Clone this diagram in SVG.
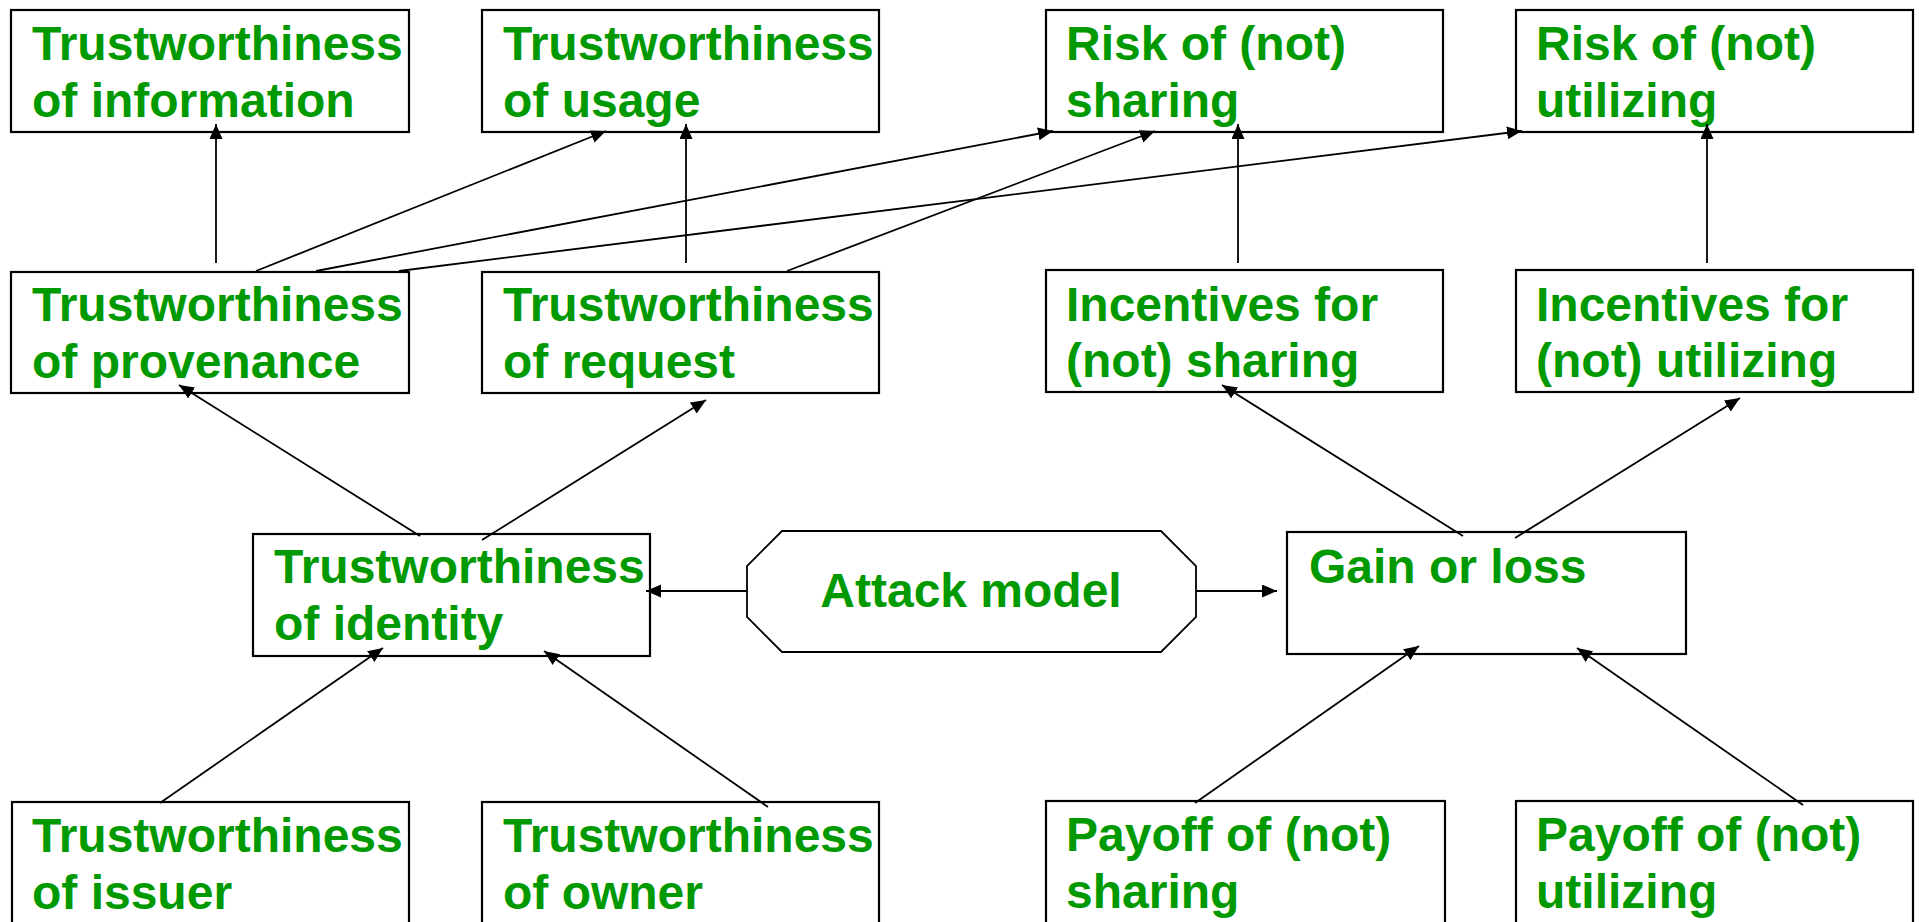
<svg xmlns="http://www.w3.org/2000/svg" width="1919" height="922" viewBox="0 0 1919 922">
<defs>
<marker id="arr" markerUnits="userSpaceOnUse" markerWidth="16" markerHeight="14" refX="15" refY="6.5" orient="auto">
<path d="M0,0 L15,6.5 L0,13 z" fill="#000"/>
</marker>
<style>
.box{fill:#fff;stroke:#000;stroke-width:2.2}
.oct{fill:#fff;stroke:#000;stroke-width:1.8}
.t{font-family:"Liberation Sans",Arial,sans-serif;font-weight:bold;font-size:48px;fill:#009900}
.c line{stroke:#000;stroke-width:1.8;marker-end:url(#arr)}
</style>
</defs>
<rect width="1919" height="922" fill="#fff"/>
<g id="info"><rect class="box" x="11" y="10" width="398" height="122"/><text class="t" x="32" y="60">Trustworthiness</text><text class="t" x="32" y="117">of information</text></g>
<g id="usage"><rect class="box" x="482" y="10" width="397" height="122"/><text class="t" x="503" y="60">Trustworthiness</text><text class="t" x="503" y="117">of usage</text></g>
<g id="risk-sharing"><rect class="box" x="1046" y="10" width="397" height="122"/><text class="t" x="1066" y="60">Risk of (not)</text><text class="t" x="1066" y="117">sharing</text></g>
<g id="risk-utilizing"><rect class="box" x="1516" y="10" width="397" height="122"/><text class="t" x="1536" y="60">Risk of (not)</text><text class="t" x="1536" y="117">utilizing</text></g>
<g id="provenance"><rect class="box" x="11" y="272" width="398" height="121"/><text class="t" x="32" y="321">Trustworthiness</text><text class="t" x="32" y="378">of provenance</text></g>
<g id="request"><rect class="box" x="482" y="272" width="397" height="121"/><text class="t" x="503" y="321">Trustworthiness</text><text class="t" x="503" y="378">of request</text></g>
<g id="inc-sharing"><rect class="box" x="1046" y="270" width="397" height="122"/><text class="t" x="1066" y="321">Incentives for</text><text class="t" x="1066" y="377">(not) sharing</text></g>
<g id="inc-utilizing"><rect class="box" x="1516" y="270" width="397" height="122"/><text class="t" x="1536" y="321">Incentives for</text><text class="t" x="1536" y="377">(not) utilizing</text></g>
<g id="identity"><rect class="box" x="253" y="534" width="397" height="122"/><text class="t" x="274" y="583">Trustworthiness</text><text class="t" x="274" y="640">of identity</text></g>
<g id="attack"><polygon class="oct" points="782,531 1161,531 1196,566 1196,617 1161,652 782,652 747,617 747,566"/><text class="t" x="971" y="607" text-anchor="middle">Attack model</text></g>
<g id="gain"><rect class="box" x="1287" y="532" width="399" height="122"/><text class="t" x="1309" y="583">Gain or loss</text></g>
<g id="issuer"><rect class="box" x="12" y="802" width="397" height="130"/><text class="t" x="32" y="852">Trustworthiness</text><text class="t" x="32" y="909">of issuer</text></g>
<g id="owner"><rect class="box" x="482" y="802" width="397" height="130"/><text class="t" x="503" y="852">Trustworthiness</text><text class="t" x="503" y="909">of owner</text></g>
<g id="payoff-sharing"><rect class="box" x="1046" y="801" width="399" height="130"/><text class="t" x="1066" y="851">Payoff of (not)</text><text class="t" x="1066" y="908">sharing</text></g>
<g id="payoff-utilizing"><rect class="box" x="1516" y="801" width="397" height="130"/><text class="t" x="1536" y="851">Payoff of (not)</text><text class="t" x="1536" y="908">utilizing</text></g>
<g class="c" id="connectors">
<line x1="216" y1="263" x2="216" y2="124"/>
<line x1="256" y1="271" x2="606" y2="131"/>
<line x1="316" y1="271" x2="1053" y2="131"/>
<line x1="399" y1="271" x2="1522" y2="131"/>
<line x1="686" y1="263" x2="686" y2="124"/>
<line x1="787" y1="271" x2="1155" y2="131"/>
<line x1="1238" y1="263" x2="1238" y2="124"/>
<line x1="1707" y1="263" x2="1707" y2="124"/>
<line x1="420" y1="536" x2="179" y2="385"/>
<line x1="482" y1="540" x2="706" y2="400"/>
<line x1="1463" y1="536" x2="1222" y2="385"/>
<line x1="1515" y1="538" x2="1740" y2="398"/>
<line x1="747" y1="591" x2="646" y2="591"/>
<line x1="1196" y1="591" x2="1277" y2="591"/>
<line x1="160" y1="803" x2="383" y2="648"/>
<line x1="768" y1="807" x2="544" y2="651"/>
<line x1="1195" y1="803" x2="1419" y2="646"/>
<line x1="1803" y1="805" x2="1577" y2="648"/>
</g>
</svg>
